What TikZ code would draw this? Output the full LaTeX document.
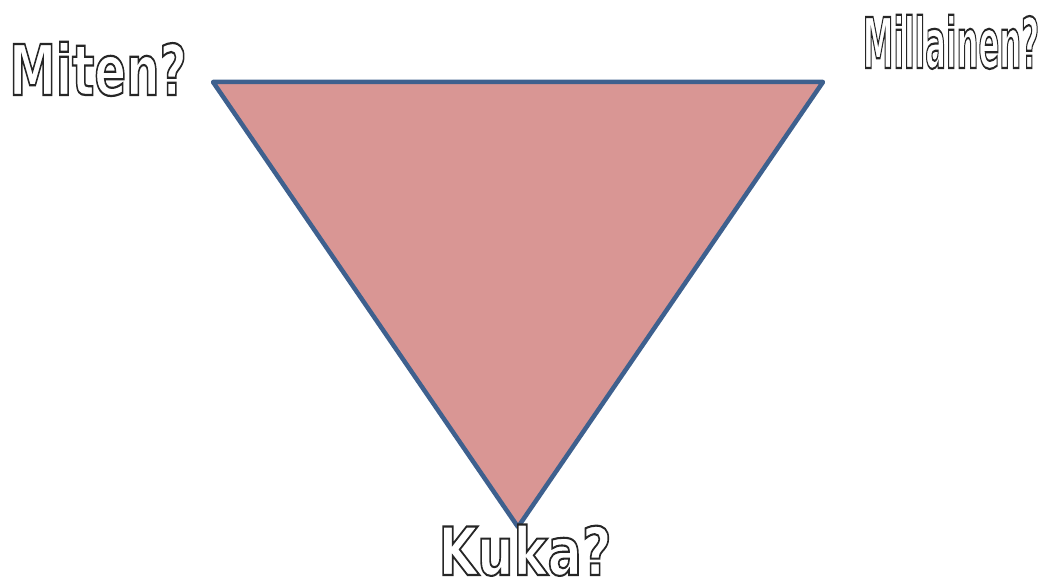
\documentclass[tikz,border=0pt]{standalone}
\usepackage{fontspec}
\usepackage{graphicx}
\newfontfamily\qfont{DejaVu Sans}
\definecolor{trifill}{RGB}{217,150,148}
\definecolor{triline}{RGB}{62,96,142}
% outlined letters: fill white, stroke dark grey
\newcommand\hollow[1]{\special{pdf:literal direct 2 Tr 2.2 w 1 g 0.15 G}#1\special{pdf:literal direct 0 Tr 0 g 0 G}}

\begin{document}
\begin{tikzpicture}[
  x=1pt, y=1pt,
  tri/.style={draw=triline, fill=trifill, line width=4.5pt, line join=round},
  quest/.style={font=\qfont\bfseries\fontsize{70}{70}\selectfont, inner sep=0pt, anchor=base}
]
\useasboundingbox (0,0) rectangle (1042,584);

\coordinate (howv)  at (213,502);
\coordinate (whatv) at (823,502);
\coordinate (whov)  at (518,57);

\draw[tri] (howv) -- (whatv) -- (whov) -- cycle;

\node[quest] (miten)     at (98,489)  {\scalebox{0.67}[1]{\hollow{Miten?}}};
\node[quest] (millainen) at (951,516) {\scalebox{0.44}[1]{\hollow{Millainen?}}};
\node[quest] (kuka)      at (525,9)   {\scalebox{0.73}[0.95]{\hollow{Kuka?}}};
\end{tikzpicture}
\end{document}
